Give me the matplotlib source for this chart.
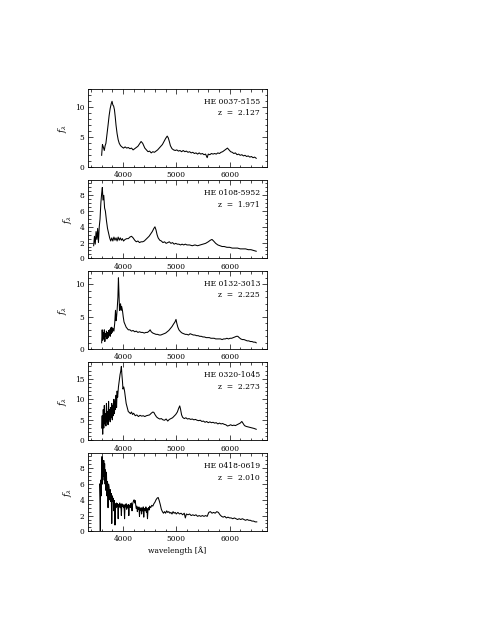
import matplotlib
matplotlib.use('Agg')
import matplotlib.pyplot as plt
from matplotlib.ticker import MultipleLocator

plt.rcParams['font.family'] = ['DejaVu Serif']
plt.rcParams['mathtext.fontset'] = 'dejavuserif'

names = ['HE 0037-5155', 'HE 0108-5952', 'HE 0132-3013', 'HE 0320-1045', 'HE 0418-0619']
redshifts = ['2.127', '1.971', '2.225', '2.273', '2.010']

# HE 0037-5155
wl1 = [3600, 3615, 3630, 3650, 3665, 3680, 3700, 3720, 3740, 3760, 3780, 3795, 3810, 3825, 3840,
       3855, 3870, 3890, 3910, 3930, 3955, 3980, 4010, 4040, 4070, 4100, 4130, 4160, 4190, 4220,
       4250, 4280, 4310, 4340, 4370, 4390, 4410, 4440, 4470, 4500, 4530, 4560, 4590, 4620, 4650,
       4680, 4710, 4740, 4770, 4800, 4830, 4850, 4870, 4890, 4920, 4950, 4980, 5010, 5040, 5070,
       5100, 5130, 5160, 5190, 5220, 5250, 5280, 5310, 5340, 5370, 5400, 5430, 5460, 5490, 5520,
       5550, 5580, 5600, 5630, 5660, 5690, 5720, 5750, 5780, 5810, 5840, 5870, 5900, 5930, 5960,
       5990, 6020, 6050, 6080, 6110, 6140, 6170, 6200, 6230, 6260, 6290, 6320, 6350, 6380, 6410,
       6440, 6470, 6500]
fx1 = [2.0, 3.8, 3.4, 2.8, 3.6, 4.0, 5.5, 7.0, 8.6, 9.8, 10.6, 11.0, 10.4, 10.2, 9.6,
       8.4, 7.0, 5.6, 4.6, 4.0, 3.6, 3.4, 3.2, 3.4, 3.2, 3.3, 3.1, 3.2, 2.9, 3.1,
       3.3, 3.5, 3.9, 4.3, 4.0, 3.6, 3.2, 2.9, 2.6, 2.7, 2.4, 2.6, 2.5, 2.7, 2.9,
       3.2, 3.5, 3.8, 4.3, 4.8, 5.2, 4.9, 4.3, 3.6, 3.1, 2.9, 2.8, 2.9, 2.7, 2.8,
       2.6, 2.8, 2.6, 2.7, 2.5, 2.6, 2.4, 2.5, 2.3, 2.4, 2.2, 2.4, 2.2, 2.3, 2.1,
       2.2, 1.6, 2.2, 2.1, 2.3, 2.2, 2.3, 2.2, 2.4, 2.3, 2.5, 2.6, 2.8, 3.0, 3.2,
       2.9, 2.6, 2.5, 2.3, 2.4, 2.1, 2.2, 2.0, 2.1, 1.9, 2.0, 1.8, 1.9, 1.7, 1.8,
       1.6, 1.7, 1.5]

# HE 0108-5952
wl2 = [3450, 3465, 3480, 3495, 3510, 3525, 3540, 3555, 3570, 3585, 3600, 3613, 3625, 3640, 3655,
       3670, 3690, 3710, 3730, 3750, 3770, 3790, 3810, 3830, 3850, 3870, 3890, 3910, 3930, 3950,
       3970, 3990, 4010, 4040, 4070, 4100, 4130, 4160, 4190, 4220, 4250, 4280, 4310, 4340, 4370,
       4400, 4430, 4460, 4490, 4520, 4550, 4580, 4600, 4620, 4640, 4660, 4690, 4720, 4750, 4780,
       4810, 4840, 4870, 4900, 4930, 4960, 4990, 5020, 5050, 5080, 5110, 5140, 5170, 5200, 5250,
       5300, 5350, 5400, 5450, 5500, 5550, 5600, 5640, 5670, 5700, 5740, 5780, 5820, 5860, 5900,
       5950, 6000, 6050, 6100, 6150, 6200, 6250, 6300, 6350, 6400, 6450, 6500]
fx2 = [1.6, 2.8, 1.8, 3.4, 2.4, 3.8, 2.0, 4.0, 5.0, 7.0, 8.2, 9.0, 7.4, 8.0, 6.4,
       6.0, 4.8, 3.8, 3.2, 2.6, 2.2, 2.6, 2.2, 2.7, 2.3, 2.6, 2.2, 2.7, 2.3, 2.6,
       2.3, 2.5, 2.2, 2.4, 2.5, 2.5, 2.7, 2.8, 2.6, 2.3, 2.1, 2.2, 2.0, 2.1, 2.1,
       2.2, 2.4, 2.6, 2.8, 3.1, 3.4, 3.8, 4.0, 3.6, 3.0, 2.6, 2.3, 2.2, 2.0, 2.1,
       1.9, 2.0, 2.1, 1.9, 2.0, 1.8, 1.9, 1.8, 1.8, 1.7, 1.8, 1.7, 1.8, 1.7, 1.7,
       1.6, 1.7, 1.6, 1.7, 1.8, 1.9, 2.1, 2.3, 2.4, 2.2, 1.9, 1.7, 1.6, 1.5, 1.5,
       1.4, 1.4, 1.3, 1.3, 1.3, 1.2, 1.2, 1.2, 1.1, 1.1, 1.0, 0.9]

# HE 0132-3013
wl3 = [3600, 3610, 3620, 3630, 3640, 3650, 3660, 3670, 3680, 3690, 3700, 3710, 3720, 3730, 3740,
       3750, 3760, 3770, 3780, 3790, 3800, 3815, 3830, 3845, 3860, 3870, 3880, 3890, 3905, 3915,
       3925, 3935, 3945, 3955, 3965, 3975, 3990, 4005, 4020, 4040, 4060, 4080, 4100, 4130, 4160,
       4190, 4220, 4250, 4280, 4310, 4340, 4370, 4400, 4430, 4460, 4490, 4510, 4530, 4560, 4590,
       4620, 4650, 4680, 4710, 4740, 4770, 4800, 4830, 4860, 4890, 4920, 4950, 4975, 4995, 5010,
       5030, 5050, 5080, 5110, 5140, 5170, 5200, 5230, 5260, 5290, 5320, 5350, 5380, 5410, 5440,
       5470, 5500, 5530, 5560, 5590, 5620, 5650, 5680, 5710, 5740, 5770, 5800, 5830, 5860, 5890,
       5920, 5950, 5980, 6010, 6040, 6070, 6100, 6130, 6155, 6180, 6210, 6240, 6270, 6300, 6330,
       6360, 6390, 6420, 6450, 6480, 6500]
fx3 = [1.0, 3.0, 1.4, 2.6, 1.6, 3.0, 1.2, 2.4, 2.0, 2.8, 1.6, 2.6, 1.8, 2.9, 2.2,
       3.0, 2.0, 3.3, 2.4, 3.4, 2.6, 3.2, 2.8, 4.0, 6.0, 4.4, 5.0, 6.0, 8.0, 11.0,
       8.6, 6.0, 6.8, 7.0, 6.0, 6.6, 6.0, 5.0, 4.2, 3.8, 3.4, 3.2, 3.0, 3.0, 2.8,
       2.9, 2.7, 2.8, 2.6, 2.7, 2.6, 2.6, 2.5, 2.6, 2.6, 2.8, 3.0, 2.7, 2.5, 2.4,
       2.3, 2.3, 2.2, 2.2, 2.3, 2.4, 2.5, 2.7, 2.9, 3.2, 3.5, 3.9, 4.2, 4.6, 4.0,
       3.4, 3.0, 2.7, 2.5, 2.4, 2.3, 2.3, 2.2, 2.4, 2.3, 2.2, 2.2, 2.1, 2.1, 2.0,
       2.0, 1.9, 1.9, 1.8, 1.8, 1.8, 1.7, 1.7, 1.7, 1.6, 1.6, 1.6, 1.6, 1.5, 1.6,
       1.6, 1.7, 1.6, 1.7, 1.7, 1.8, 1.9, 2.0, 2.0, 1.8, 1.6, 1.5, 1.5, 1.4, 1.3,
       1.3, 1.2, 1.2, 1.1, 1.1, 1.0]

# HE 0320-1045
wl4 = [3600, 3610, 3620, 3630, 3640, 3650, 3660, 3670, 3680, 3690, 3700, 3710, 3720, 3730, 3740,
       3750, 3760, 3770, 3780, 3790, 3800, 3810, 3820, 3830, 3840, 3850, 3860, 3870, 3880, 3890,
       3900, 3915, 3930, 3945, 3960, 3970, 3980, 3990, 4000, 4015, 4030, 4045, 4060, 4080, 4100,
       4120, 4140, 4160, 4180, 4200, 4230, 4260, 4290, 4320, 4350, 4380, 4410, 4440, 4470, 4500,
       4530, 4560, 4580, 4600, 4630, 4660, 4690, 4720, 4750, 4780, 4810, 4840, 4870, 4900, 4930,
       4960, 4990, 5020, 5045, 5065, 5080, 5100, 5120, 5150, 5180, 5210, 5240, 5270, 5300, 5330,
       5360, 5390, 5420, 5450, 5480, 5510, 5540, 5570, 5600, 5630, 5660, 5690, 5720, 5750, 5780,
       5810, 5840, 5870, 5900, 5930, 5960, 5990, 6020, 6050, 6080, 6110, 6140, 6170, 6200, 6230,
       6250, 6280, 6310, 6340, 6370, 6400, 6430, 6460, 6500]
fx4 = [3.0, 6.0, 1.5, 7.5, 3.0, 8.5, 4.0, 6.5, 3.5, 9.0, 4.5, 7.0, 3.8, 9.5, 5.0,
       7.5, 4.5, 8.0, 5.5, 9.0, 5.0, 8.5, 6.0, 10.0, 6.5, 9.5, 7.5, 11.0, 8.0, 12.0,
       10.5, 13.0, 14.5, 16.0, 17.0, 18.0, 16.0, 14.5, 12.5, 13.0, 12.0, 10.5, 9.0, 8.0, 7.0,
       6.8, 6.5, 6.9, 6.3, 6.6, 6.0, 6.2, 5.8, 6.1, 5.9, 6.0, 5.8, 6.0, 6.1, 6.2,
       6.6, 6.9, 6.8, 6.3, 5.7, 5.4, 5.2, 5.3, 5.0, 4.9, 5.2, 4.7, 5.1, 5.3, 5.5,
       5.9, 6.3, 6.9, 7.8, 8.4, 7.6, 6.2, 5.6, 5.3, 5.5, 5.2, 5.3, 5.1, 5.2, 5.0,
       5.1, 4.9, 4.8, 4.9, 4.6, 4.7, 4.4, 4.6, 4.3, 4.5, 4.3, 4.4, 4.2, 4.3, 4.0,
       4.2, 4.0, 4.1, 3.9, 3.8, 3.5, 3.6, 3.8, 3.6, 3.7, 3.6, 3.8, 4.0, 4.2, 4.6,
       4.2, 3.6, 3.4, 3.3, 3.2, 3.1, 3.0, 2.9, 2.7]

# HE 0418-0619
wl5 = [3560, 3570, 3575, 3580, 3590, 3600, 3608, 3616, 3624, 3632, 3640, 3648, 3656, 3664, 3672,
       3680, 3690, 3700, 3710, 3720, 3730, 3740, 3750, 3760, 3770, 3780, 3790, 3800, 3810, 3820,
       3830, 3840, 3850, 3860, 3870, 3880, 3890, 3900, 3910, 3920, 3930, 3940, 3950, 3960, 3970,
       3980, 3990, 4000, 4010, 4020, 4030, 4040, 4050, 4060, 4070, 4080, 4090, 4100, 4110, 4120,
       4130, 4140, 4150, 4160, 4170, 4180, 4190, 4200, 4210, 4220, 4230, 4240, 4250, 4260, 4270,
       4280, 4290, 4300, 4310, 4320, 4330, 4340, 4350, 4360, 4370, 4380, 4390, 4400, 4410, 4420,
       4430, 4440, 4450, 4460, 4470, 4480, 4490, 4500, 4520, 4540, 4560, 4580, 4600, 4620, 4640,
       4660, 4680, 4700, 4720, 4740, 4760, 4780, 4800, 4820, 4840, 4860, 4880, 4900, 4920, 4940,
       4960, 4980, 5000, 5030, 5060, 5090, 5120, 5150, 5170, 5190, 5220, 5250, 5280, 5310, 5340,
       5370, 5400, 5430, 5460, 5490, 5520, 5550, 5580, 5610, 5640, 5670, 5700, 5730, 5760, 5790,
       5820, 5850, 5880, 5910, 5940, 5970, 6000, 6030, 6060, 6090, 6120, 6150, 6180, 6210, 6240,
       6270, 6300, 6330, 6360, 6390, 6420, 6450, 6480, 6510]
fx5 = [6.0, 3.5, 0.0, 6.5, 4.5, 8.5, 9.5, 6.0, 8.8, 7.0, 9.0, 6.5, 8.6, 6.0, 7.8,
       5.2, 7.5, 4.5, 6.3, 3.0, 6.0, 5.6, 4.0, 5.3, 3.8, 4.8, 1.0, 4.5, 3.8, 4.2,
       2.6, 3.9, 0.8, 3.5, 3.0, 3.6, 3.2, 3.5, 1.6, 3.4, 3.1, 3.6, 3.0, 3.4, 2.0,
       3.5, 3.2, 3.4, 3.0, 3.3, 1.6, 3.4, 3.1, 3.5, 2.8, 3.3, 3.0, 3.4, 2.0, 3.3,
       3.1, 3.5, 3.0, 3.6, 2.6, 3.4, 3.7, 3.9, 4.0, 3.6, 3.9, 3.3, 2.9, 3.2, 2.5,
       3.0, 2.8, 3.1, 1.9, 2.9, 2.7, 3.0, 2.2, 2.9, 2.6, 3.1, 1.8, 2.8, 2.9, 2.6,
       3.1, 2.4, 2.9, 1.6, 2.8, 3.0, 2.7, 3.2, 3.0, 3.3, 3.2, 3.5, 3.7, 4.0, 4.2,
       4.3, 3.9, 3.4, 2.8, 2.5, 2.3, 2.5, 2.3, 2.6, 2.4, 2.5, 2.3, 2.4, 2.2, 2.5,
       2.3, 2.4, 2.2, 2.4, 2.2, 2.3, 2.1, 2.3, 1.7, 2.2, 2.1, 2.2, 2.0, 2.1, 2.0,
       2.1, 1.9, 2.0, 1.9, 2.0, 1.9, 2.0, 1.9, 2.4, 2.5, 2.3, 2.4, 2.3, 2.5, 2.4,
       2.1, 1.9, 1.8, 1.9, 1.7, 1.8, 1.7, 1.7, 1.6, 1.7, 1.6, 1.5, 1.6, 1.5, 1.6,
       1.5, 1.4, 1.5, 1.4, 1.4, 1.3, 1.3, 1.2, 1.2]

wls = [wl1, wl2, wl3, wl4, wl5]
fxs = [fx1, fx2, fx3, fx4, fx5]
ytops = [13, 9.9, 12, 19, 9.9]
ymajor = [5, 2, 5, 5, 2]
yminor = [1, 0.5, 1, 1, 0.5]

fig = plt.figure(figsize=(4.8, 6.21), dpi=100)
bottoms = [0.7306, 0.5840, 0.4375, 0.2909, 0.1444]

for i in range(5):
    ax = fig.add_axes([0.184, bottoms[i], 0.372, 0.1256])
    ax.plot(wls[i], fxs[i], color='black', lw=0.75)
    ax.set_xlim(3350, 6700)
    ax.set_ylim(0, ytops[i])
    ax.xaxis.set_major_locator(MultipleLocator(1000))
    ax.xaxis.set_minor_locator(MultipleLocator(200))
    ax.yaxis.set_major_locator(MultipleLocator(ymajor[i]))
    ax.yaxis.set_minor_locator(MultipleLocator(yminor[i]))
    ax.tick_params(which='both', direction='in', top=True, right=True,
                   labelsize=5.3, width=0.5, pad=3)
    ax.tick_params(which='major', length=3.5)
    ax.tick_params(which='minor', length=1.8)
    for s in ax.spines.values():
        s.set_linewidth(0.6)
    ax.set_ylabel(r'$f_\lambda$', fontsize=6.5, labelpad=4)
    ax.text(0.962, 0.84, names[i], transform=ax.transAxes, ha='right', va='center', fontsize=5.5)
    ax.text(0.962, 0.69, 'z  =  ' + redshifts[i], transform=ax.transAxes, ha='right', va='center', fontsize=5.5)
    if i == 4:
        ax.set_xlabel('wavelength [Å]', fontsize=5.5, labelpad=2)

fig.savefig('out.png', dpi=100)
